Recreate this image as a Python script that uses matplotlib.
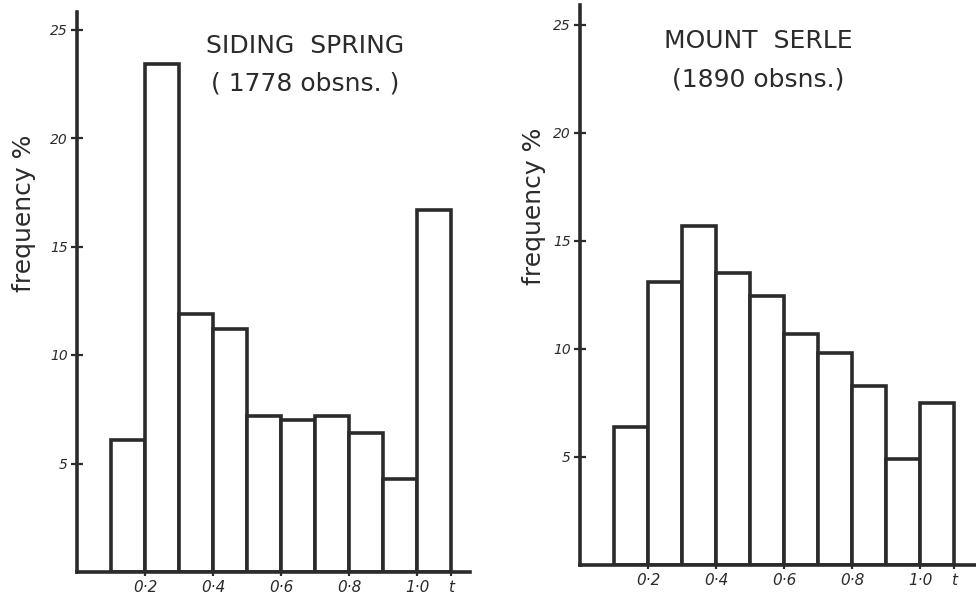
import numpy as np
from matplotlib import pyplot as plt

# bin left edges in t (bins 0.1 wide)
t_edges = [0.1, 0.2, 0.3, 0.4, 0.5, 0.6, 0.7, 0.8, 0.9, 1.0]

siding_freq = [6.1, 23.4, 11.9, 11.2, 7.2, 7.0, 7.2, 6.4, 4.3, 16.7]
serle_freq = [6.4, 13.1, 15.7, 13.5, 12.45, 10.7, 9.8, 8.3, 4.9, 7.5]

xtick_pos = [0.2, 0.4, 0.6, 0.8, 1.0, 1.1]
xtick_lab = ["0·2", "0·4", "0·6", "0·8", "1·0", "t"]
ytick_pos = [5, 10, 15, 20, 25]

ink = "#2b2b2b"
W, H = 976, 598

fig = plt.figure(figsize=(W / 100, H / 100), dpi=100)
fig.patch.set_facecolor("white")


def panel(rect, freq, title1, title2, tx, ty, lx, xmax, ymax):
    ax = fig.add_axes(rect)
    ax.bar(t_edges, freq, width=0.1, align="edge",
           facecolor="white", edgecolor=ink, linewidth=2.6, zorder=2)
    ax.set_xlim(0, xmax)
    ax.set_ylim(0, ymax)
    for s in ["top", "right"]:
        ax.spines[s].set_visible(False)
    for s in ["left", "bottom"]:
        ax.spines[s].set_linewidth(2.6)
        ax.spines[s].set_color(ink)
    ax.set_xticks(xtick_pos)
    ax.set_xticklabels(xtick_lab, fontstyle="italic", fontsize=11, color=ink)
    ax.set_yticks(ytick_pos)
    ax.set_yticklabels([str(v) for v in ytick_pos], fontstyle="italic",
                       fontsize=10, color=ink)
    ax.tick_params(axis="y", direction="inout", length=9, width=1.6,
                   colors=ink, pad=2)
    ax.tick_params(axis="x", direction="inout", length=6, width=1.6,
                   colors=ink, pad=3)
    ax.set_ylabel("frequency %", fontsize=18, color=ink)
    ax.yaxis.set_label_coords(lx, 0.64)
    ax.text(tx, ty, title1, transform=ax.transAxes, ha="center",
            va="center", fontsize=18, color=ink)
    ax.text(tx, ty - 0.068, title2, transform=ax.transAxes, ha="center",
            va="center", fontsize=18, color=ink)
    return ax


# left panel: origin at (77, 572) px, 21.7 px per %, 340 px per unit t
panel([77 / W, (H - 572) / H, 393 / W, 560 / H], siding_freq,
      "SIDING  SPRING", "( 1778 obsns. )", 0.58, 0.94, -0.105,
      393 / 340, 560 / 21.7)

# right panel: origin at (580, 565) px
panel([580 / W, (H - 565) / H, 396 / W, 560 / H], serle_freq,
      "MOUNT  SERLE", "(1890 obsns.)", 0.45, 0.935, -0.085,
      396 / 340, 560 / 21.6)

fig.savefig("out.png", dpi=100)
